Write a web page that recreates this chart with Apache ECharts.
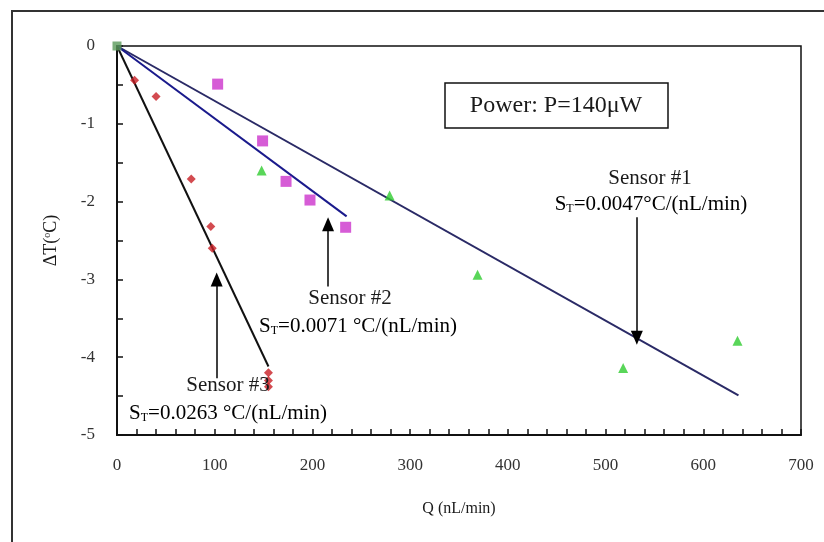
<!DOCTYPE html>
<html>
<head>
<meta charset="utf-8">
<script src="https://cdn.jsdelivr.net/npm/echarts@6/dist/echarts.min.js"></script>
<style>html,body{margin:0;padding:0;background:#fff}#c{width:824px;height:542px}</style>
</head>
<body>
<div id="c"></div>
<script>
// Sensor #3 (red markers)
const sensor3 = [[18, -0.44], [40, -0.65], [76, -1.71], [96, -2.32], [97.5, -2.6], [155, -4.2], [155, -4.3], [155, -4.38]];
// Sensor #2 (magenta squares)
const sensor2 = [[103, -0.49], [149, -1.22], [173, -1.74], [197.5, -1.98], [234, -2.33]];
// Sensor #1 (green triangles)
const sensor1 = [[148, -1.6], [279, -1.92], [369, -2.94], [518, -4.14], [635, -3.79]];
// common origin point
const origin = [[0, 0]];
// fitted lines
const fit3 = [[0, 0], [155, -4.12]];
const fit2 = [[0, 0], [235, -2.19]];
const fit1 = [[0, 0], [636, -4.49]];
// arrows [from, to]
const arrow1 = [[532, -2.2], [532, -3.75]];
const arrow2 = [[216, -3.09], [216, -2.29]];
const arrow3 = [[102, -4.27], [102, -3.0]];
// axis ticks
const xTicks = [0, 100, 200, 300, 400, 500, 600, 700];
const yTicks = [0, -1, -2, -3, -4, -5];

const serif = 'Liberation Serif';
const chart = echarts.init(document.getElementById('c'), null, {renderer: 'canvas'});

function arrowSeries(a) {
  return {
    type: 'line', data: [], silent: true,
    markLine: {
      silent: true, symbol: ['none', 'triangle'], symbolSize: [12, 14], precision: 4,
      lineStyle: {color: '#000', width: 1.5, type: 'solid'}, label: {show: false},
      data: [[{coord: a[0]}, {coord: a[1]}]]
    }
  };
}

const rich = {
  b: {fontFamily: serif, fontSize: 21, color: '#1a1a1a'},
  sub: {fontFamily: serif, fontSize: 12, color: '#1a1a1a', verticalAlign: 'bottom', padding: [10, 0, 0, 0]}
};

chart.setOption({
  animation: false,
  backgroundColor: '#fff',
  grid: {left: 117, top: 46, right: 23, bottom: 107, show: true, borderColor: '#111', borderWidth: 1.5, backgroundColor: 'transparent'},
  xAxis: {
    type: 'value', min: xTicks[0], max: xTicks[xTicks.length - 1], interval: 100,
    name: 'Q (nL/min)', nameLocation: 'middle', nameGap: 66,
    nameTextStyle: {fontFamily: serif, fontSize: 16, color: '#1a1a1a'},
    axisLine: {show: true, onZero: false, lineStyle: {color: '#111', width: 2}},
    axisTick: {show: true, inside: true, length: 6, lineStyle: {color: '#111', width: 1.5}},
    minorTick: {show: true, splitNumber: 5, length: 6, lineStyle: {color: '#111', width: 1.5}},
    axisLabel: {margin: 22, fontFamily: serif, fontSize: 17, color: '#333'},
    splitLine: {show: false}
  },
  yAxis: {
    type: 'value', min: yTicks[yTicks.length - 1], max: yTicks[0], interval: 1,
    name: 'ΔT({sup|o}C)', nameLocation: 'middle', nameGap: 57, nameRotate: 90,
    nameTextStyle: {fontFamily: serif, fontSize: 18, color: '#1a1a1a',
      rich: {sup: {fontFamily: serif, fontSize: 10, color: '#1a1a1a', verticalAlign: 'top', padding: [0, 0, 8, 0]}}},
    axisLine: {show: true, onZero: false, lineStyle: {color: '#111', width: 2}},
    axisTick: {show: true, inside: true, length: 6, lineStyle: {color: '#111', width: 1.5}},
    minorTick: {show: true, splitNumber: 2, length: 6, lineStyle: {color: '#111', width: 1.5}},
    axisLabel: {margin: 22, fontFamily: serif, fontSize: 17, color: '#333'},
    splitLine: {show: false}
  },
  graphic: [
    {type: 'rect', shape: {x: 12, y: 11, width: 830, height: 560}, style: {fill: 'none', stroke: '#333', lineWidth: 2}, silent: true, z: 100},
    {type: 'rect', shape: {x: 445, y: 83, width: 223, height: 45}, style: {fill: '#fff', stroke: '#111', lineWidth: 1.5}, z: 100},
    {type: 'text', x: 556, y: 106, style: {text: 'Power: P=140μW', font: '24px "Liberation Serif"', fill: '#1a1a1a', align: 'center', verticalAlign: 'middle'}, z: 101},
    {type: 'text', x: 650, y: 178, style: {text: 'Sensor #1', font: '21px "Liberation Serif"', fill: '#1a1a1a', align: 'center', verticalAlign: 'middle'}, z: 101},
    {type: 'text', x: 651, y: 204, style: {text: '{b|S}{sub|T}{b|=0.0047°C/(nL/min)}', rich: rich, align: 'center', verticalAlign: 'middle'}, z: 101},
    {type: 'text', x: 350, y: 298, style: {text: 'Sensor #2', font: '21px "Liberation Serif"', fill: '#1a1a1a', align: 'center', verticalAlign: 'middle'}, z: 101},
    {type: 'text', x: 358, y: 326, style: {text: '{b|S}{sub|T}{b|=0.0071 °C/(nL/min)}', rich: rich, align: 'center', verticalAlign: 'middle'}, z: 101},
    {type: 'text', x: 228, y: 385, style: {text: 'Sensor #3', font: '21px "Liberation Serif"', fill: '#1a1a1a', align: 'center', verticalAlign: 'middle'}, z: 101},
    {type: 'text', x: 228, y: 413, style: {text: '{b|S}{sub|T}{b|=0.0263 °C/(nL/min)}', rich: rich, align: 'center', verticalAlign: 'middle'}, z: 101}
  ],
  series: [
    {type: 'line', data: fit1, symbol: 'none', lineStyle: {color: '#2a2a66', width: 2}, z: 3},
    {type: 'line', data: fit2, symbol: 'none', lineStyle: {color: '#1a1a8c', width: 2}, z: 3},
    {type: 'line', data: fit3, symbol: 'none', lineStyle: {color: '#111', width: 2}, z: 3},
    {type: 'scatter', data: sensor1, symbol: 'triangle', symbolSize: 10, itemStyle: {color: '#2fcc2f'}, z: 4},
    {type: 'scatter', data: sensor2, symbol: 'rect', symbolSize: 11, itemStyle: {color: '#cc33cc'}, z: 4},
    {type: 'scatter', data: sensor3, symbol: 'diamond', symbolSize: 9, itemStyle: {color: '#c81e24'}, z: 4},
    {type: 'scatter', data: origin, symbol: 'rect', symbolSize: 9, itemStyle: {color: '#5a9a5a'}, z: 5},
    arrowSeries(arrow1), arrowSeries(arrow2), arrowSeries(arrow3)
  ]
});
</script>
</body>
</html>
